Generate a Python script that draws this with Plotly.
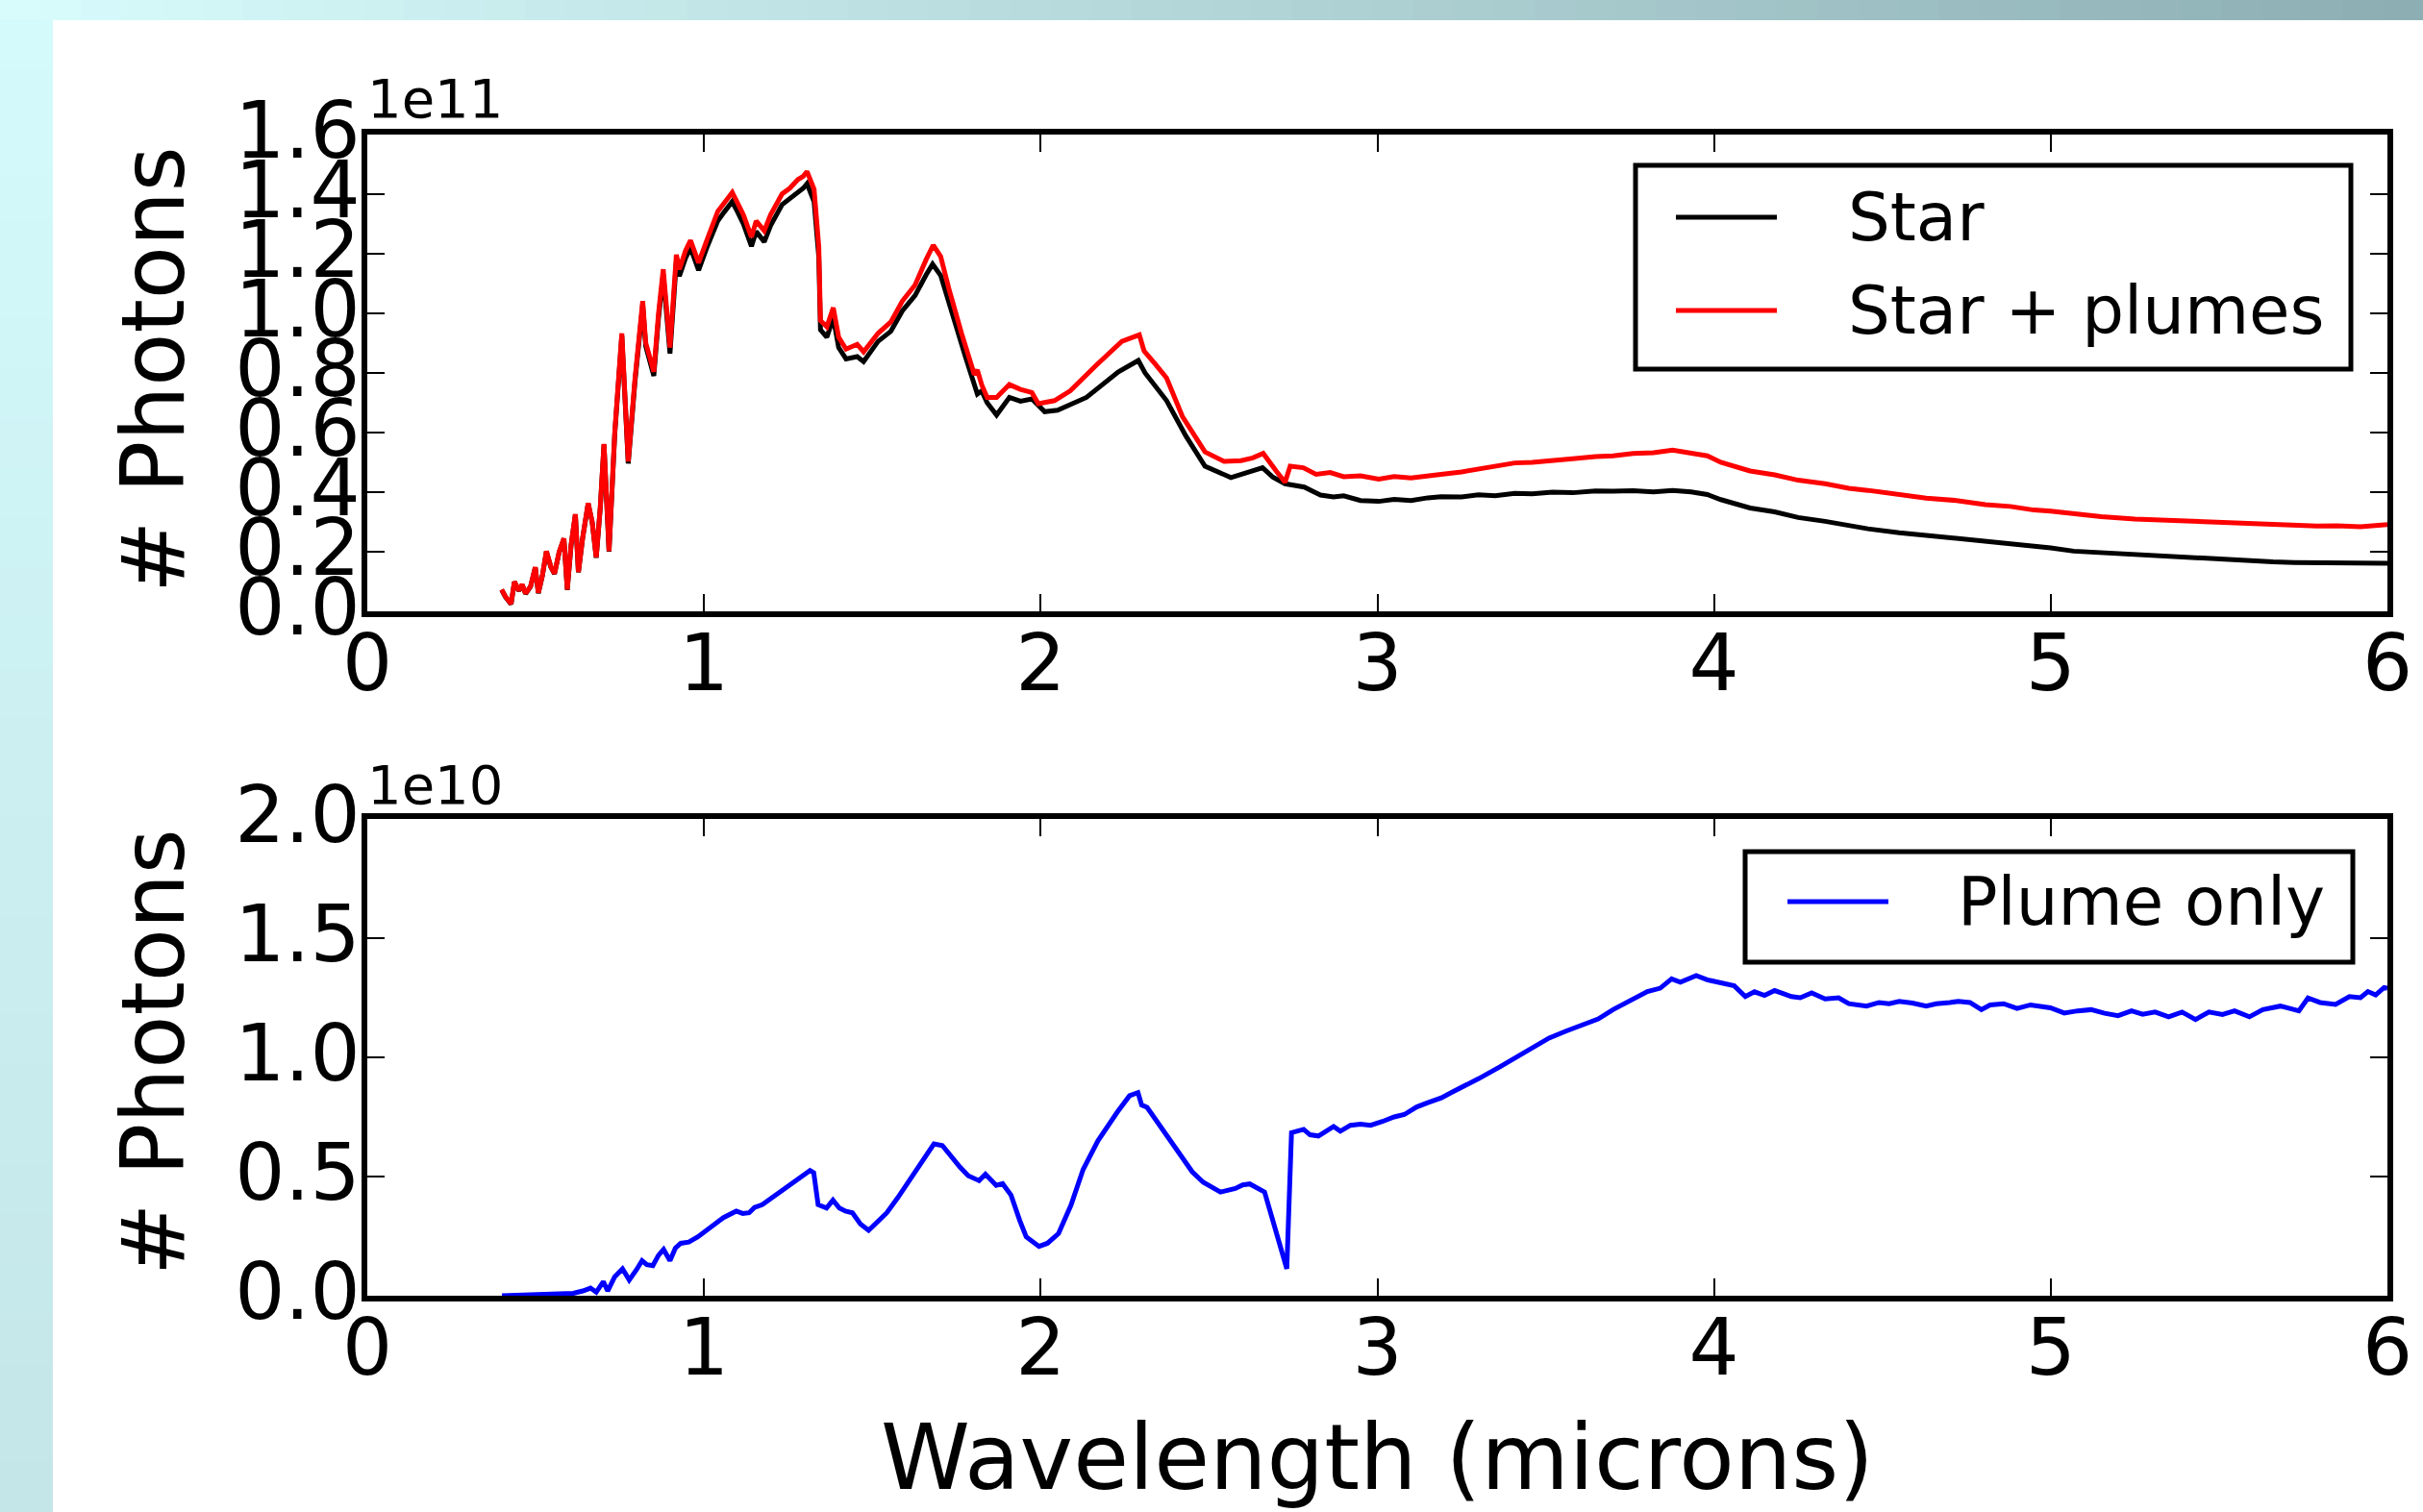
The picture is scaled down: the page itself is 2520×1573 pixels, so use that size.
import plotly.graph_objects as go

# ---------------- data (photons; top panel in units of 1e11, bottom in 1e10) -------------
star_wl = [0.399, 0.41, 0.427, 0.437, 0.45, 0.46, 0.47, 0.485, 0.499, 0.508, 0.52, 0.532, 0.545, 0.556,
           0.57, 0.584, 0.594, 0.605, 0.618, 0.627, 0.64, 0.656, 0.668, 0.680, 0.692, 0.703, 0.718, 0.735,
           0.756, 0.775, 0.795, 0.818, 0.827, 0.851, 0.865, 0.879, 0.899, 0.918, 0.927, 0.945, 0.960, 0.984,
           1.01, 1.041, 1.06, 1.084, 1.10, 1.117, 1.141, 1.155, 1.179, 1.198, 1.232, 1.255, 1.279, 1.295,
           1.306, 1.327, 1.341, 1.346, 1.365, 1.384, 1.40, 1.422, 1.455, 1.474, 1.517, 1.555, 1.589, 1.627,
           1.660, 1.679, 1.703, 1.736, 1.775, 1.812, 1.825, 1.841, 1.869, 1.907, 1.94, 1.974, 2.012, 2.05,
           2.136, 2.231, 2.290, 2.31, 2.374, 2.431, 2.488, 2.565, 2.62, 2.659, 2.690, 2.726, 2.783, 2.831,
           2.87, 2.90, 2.95, 3.004, 3.05, 3.10, 3.15, 3.189, 3.25, 3.30, 3.35, 3.408, 3.46, 3.52, 3.58, 3.648,
           3.70, 3.76, 3.82, 3.877, 3.932, 3.98, 4.02, 4.06, 4.107, 4.18, 4.25, 4.33, 4.40, 4.457, 4.55, 4.63,
           4.72, 4.806, 4.88, 4.95, 5.00, 5.068, 5.15, 5.25, 5.35, 5.462, 5.53, 5.60, 5.66, 5.724, 5.79,
           5.85, 5.92, 6.0]
star_val = [0.072, 0.049, 0.024, 0.099, 0.069, 0.089, 0.059, 0.083, 0.147, 0.061, 0.119, 0.201, 0.149, 0.126,
            0.199, 0.244, 0.072, 0.219, 0.325, 0.131, 0.249, 0.362, 0.299, 0.180, 0.348, 0.560, 0.200, 0.595,
            0.925, 0.496, 0.77, 1.03, 0.89, 0.79, 0.985, 1.13, 0.865, 1.175, 1.125, 1.185, 1.22, 1.145,
            1.225, 1.31, 1.34, 1.375, 1.34, 1.30, 1.225, 1.275, 1.24, 1.295, 1.365, 1.385, 1.41, 1.42,
            1.435, 1.375, 1.19, 0.945, 0.92, 0.985, 0.885, 0.847, 0.855, 0.838, 0.906, 0.94, 1.008, 1.06,
            1.13, 1.165, 1.127, 0.998, 0.86, 0.729, 0.74, 0.70, 0.659, 0.718, 0.705, 0.713, 0.670, 0.675,
            0.718, 0.804, 0.842, 0.80, 0.707, 0.589, 0.487, 0.449, 0.466, 0.482, 0.45, 0.428, 0.417, 0.390,
            0.384, 0.388, 0.372, 0.369, 0.376, 0.372, 0.381, 0.385, 0.384, 0.391, 0.388, 0.396, 0.394, 0.400,
            0.398, 0.404, 0.403, 0.405, 0.401, 0.406, 0.401, 0.392, 0.375, 0.362, 0.347, 0.334, 0.315, 0.302,
            0.287, 0.277, 0.264, 0.255, 0.246, 0.234, 0.226, 0.217, 0.213, 0.202, 0.197, 0.188, 0.182,
            0.175, 0.172, 0.169, 0.166, 0.164, 0.163, 0.162, 0.160, 0.161]

plumes_wl = [0.399, 0.41, 0.427, 0.437, 0.45, 0.46, 0.47, 0.485, 0.499, 0.508, 0.52, 0.532, 0.545, 0.556,
             0.57, 0.584, 0.594, 0.605, 0.618, 0.627, 0.64, 0.656, 0.668, 0.680, 0.692, 0.703, 0.718, 0.735,
             0.756, 0.775, 0.795, 0.818, 0.827, 0.851, 0.865, 0.879, 0.899, 0.918, 0.927, 0.945, 0.960, 0.984,
             1.01, 1.041, 1.06, 1.084, 1.10, 1.117, 1.141, 1.155, 1.179, 1.198, 1.232, 1.255, 1.279, 1.295,
             1.306, 1.327, 1.341, 1.346, 1.365, 1.384, 1.40, 1.422, 1.455, 1.474, 1.517, 1.555, 1.589, 1.627,
             1.660, 1.681, 1.703, 1.727, 1.765, 1.803, 1.812, 1.825, 1.841, 1.869, 1.907, 1.94, 1.974, 1.993,
             2.041, 2.088, 2.165, 2.241, 2.293, 2.307, 2.340, 2.374, 2.421, 2.488, 2.545, 2.595, 2.630, 2.661,
             2.700, 2.726, 2.741, 2.780, 2.818, 2.86, 2.90, 2.95, 3.004, 3.05, 3.10, 3.15, 3.189, 3.25, 3.30,
             3.35, 3.408, 3.46, 3.52, 3.58, 3.648, 3.70, 3.76, 3.82, 3.877, 3.932, 3.98, 4.02, 4.06, 4.107,
             4.18, 4.25, 4.33, 4.40, 4.457, 4.55, 4.63, 4.72, 4.806, 4.88, 4.95, 5.00, 5.068, 5.15, 5.25, 5.35,
             5.462, 5.53, 5.60, 5.66, 5.724, 5.79, 5.85, 5.92, 6.0]
plumes_val = [0.073, 0.05, 0.025, 0.10, 0.07, 0.09, 0.06, 0.084, 0.148, 0.062, 0.12, 0.202, 0.15, 0.127,
              0.20, 0.245, 0.073, 0.22, 0.326, 0.132, 0.25, 0.363, 0.30, 0.181, 0.35, 0.562, 0.202, 0.60,
              0.933, 0.503, 0.78, 1.041, 0.901, 0.804, 1.00, 1.148, 0.885, 1.197, 1.148, 1.21, 1.245, 1.170,
              1.25, 1.342, 1.37, 1.406, 1.37, 1.331, 1.256, 1.31, 1.277, 1.331, 1.401, 1.42, 1.449, 1.46,
              1.476, 1.417, 1.224, 0.976, 0.955, 1.019, 0.92, 0.880, 0.896, 0.871, 0.933, 0.971, 1.041, 1.095,
              1.181, 1.229, 1.191, 1.084, 0.933, 0.794, 0.81, 0.76, 0.718, 0.718, 0.761, 0.745, 0.734, 0.697,
              0.707, 0.740, 0.826, 0.906, 0.928, 0.874, 0.83, 0.783, 0.654, 0.535, 0.503, 0.506, 0.515, 0.530,
              0.47, 0.433, 0.487, 0.482, 0.460, 0.466, 0.452, 0.455, 0.444, 0.452, 0.448, 0.457, 0.460, 0.468,
              0.478, 0.484, 0.498, 0.500, 0.508, 0.512, 0.519, 0.522, 0.530, 0.532, 0.541, 0.530, 0.522, 0.50,
              0.488, 0.471, 0.458, 0.44, 0.428, 0.413, 0.406, 0.392, 0.38, 0.372, 0.358, 0.352, 0.34, 0.336,
              0.326, 0.318, 0.31, 0.306, 0.299, 0.297, 0.292, 0.290, 0.288, 0.286, 0.287, 0.284, 0.291]

plume_wl = [0.40, 0.45, 0.50, 0.55, 0.58, 0.612, 0.64, 0.663, 0.68, 0.701, 0.714, 0.735, 0.758, 0.778, 0.80,
            0.816, 0.83, 0.848, 0.865, 0.880, 0.899, 0.915, 0.931, 0.955, 0.982, 1.02, 1.058, 1.096, 1.115,
            1.134, 1.15, 1.173, 1.20, 1.224, 1.25, 1.275, 1.307, 1.315, 1.326, 1.339, 1.364, 1.383, 1.402,
            1.42, 1.441, 1.465, 1.489, 1.515, 1.543, 1.575, 1.606, 1.635, 1.657, 1.683, 1.708, 1.734, 1.76,
            1.785, 1.817, 1.836, 1.868, 1.887, 1.912, 1.938, 1.957, 1.995, 2.02, 2.053, 2.09, 2.126, 2.170,
            2.228, 2.264, 2.289, 2.30, 2.316, 2.35, 2.374, 2.417, 2.45, 2.483, 2.534, 2.578, 2.600, 2.621,
            2.665, 2.731, 2.745, 2.781, 2.80, 2.825, 2.85, 2.87, 2.89, 2.92, 2.95, 2.98, 3.015, 3.05, 3.08,
            3.117, 3.15, 3.19, 3.219, 3.26, 3.30, 3.364, 3.40, 3.45, 3.510, 3.56, 3.60, 3.656, 3.70, 3.75,
            3.802, 3.84, 3.874, 3.90, 3.947, 3.98, 4.020, 4.06, 4.093, 4.12, 4.15, 4.18, 4.201, 4.23, 4.256,
            4.29, 4.33, 4.37, 4.40, 4.453, 4.49, 4.52, 4.55, 4.589, 4.63, 4.66, 4.70, 4.726, 4.76, 4.794,
            4.82, 4.86, 4.90, 4.94, 4.999, 5.04, 5.08, 5.12, 5.16, 5.20, 5.24, 5.273, 5.31, 5.35, 5.39,
            5.430, 5.47, 5.51, 5.546, 5.59, 5.63, 5.682, 5.71, 5.737, 5.764, 5.80, 5.846, 5.887, 5.92,
            5.942, 5.965, 5.990, 6.0]
plume_val = [0.0, 0.002, 0.004, 0.006, 0.01, 0.01, 0.02, 0.032, 0.015, 0.059, 0.02, 0.08, 0.113, 0.066, 0.11,
             0.147, 0.13, 0.126, 0.17, 0.194, 0.147, 0.20, 0.220, 0.225, 0.247, 0.29, 0.328, 0.355, 0.345,
             0.348, 0.37, 0.382, 0.41, 0.435, 0.46, 0.483, 0.516, 0.525, 0.516, 0.382, 0.368, 0.401, 0.368,
             0.355, 0.348, 0.30, 0.274, 0.31, 0.348, 0.41, 0.476, 0.54, 0.583, 0.637, 0.630, 0.583, 0.54,
             0.503, 0.483, 0.51, 0.463, 0.47, 0.422, 0.315, 0.247, 0.207, 0.22, 0.261, 0.38, 0.529, 0.650,
             0.771, 0.839, 0.852, 0.80, 0.79, 0.72, 0.677, 0.583, 0.52, 0.476, 0.435, 0.45, 0.465, 0.469,
             0.435, 0.113, 0.684, 0.698, 0.675, 0.67, 0.695, 0.71, 0.69, 0.715, 0.72, 0.715, 0.731, 0.75, 0.76,
             0.792, 0.81, 0.83, 0.852, 0.88, 0.91, 0.960, 0.99, 1.03, 1.081, 1.11, 1.13, 1.161, 1.20, 1.24,
             1.276, 1.29, 1.329, 1.315, 1.343, 1.325, 1.31, 1.30, 1.255, 1.275, 1.26, 1.28, 1.27, 1.255, 1.25,
             1.27, 1.245, 1.25, 1.225, 1.215, 1.23, 1.225, 1.235, 1.228, 1.215, 1.225, 1.23, 1.235, 1.23, 1.20,
             1.22, 1.225, 1.205, 1.22, 1.208, 1.186, 1.195, 1.20, 1.185, 1.175, 1.195, 1.181, 1.19, 1.17, 1.19,
             1.159, 1.19, 1.18, 1.195, 1.17, 1.20, 1.215, 1.205, 1.195, 1.249, 1.23, 1.222, 1.255, 1.25,
             1.276, 1.262, 1.293, 1.29]

x_ticks = [0, 1, 2, 3, 4, 5, 6]
x_tick_text = ["0", "1", "2", "3", "4", "5", "6"]
top_ticks = [0.0, 0.2, 0.4, 0.6, 0.8, 1.0, 1.2, 1.4, 1.6]
top_tick_text = ["0.0", "0.2", "0.4", "0.6", "0.8", "1.0", "1.2", "1.4", "1.6"]
bottom_ticks = [0.0, 0.5, 1.0, 1.5, 2.0]
bottom_tick_text = ["0.0", "0.5", "1.0", "1.5", "2.0"]

top_names = ["Star", "Star + plumes"]
top_colors = ["#000000", "#FF0000"]
bottom_names = ["Plume only"]
bottom_colors = ["#0000FF"]

# ---------------- layout geometry -------------
W, H = 2520, 1573
L, R, T, B = 382, 37, 140, 225
PW, PH = W - L - R, H - T - B
FONT = "DejaVu Sans"


def px2x(px):
    return (px - L) / PW


def py2y(py):
    return (H - B - py) / PH


fig = go.Figure()
fig.add_trace(go.Scatter(x=star_wl, y=star_val, mode="lines", name=top_names[0],
                         line=dict(color=top_colors[0], width=5), xaxis="x", yaxis="y", showlegend=False))
fig.add_trace(go.Scatter(x=plumes_wl, y=plumes_val, mode="lines", name=top_names[1],
                         line=dict(color=top_colors[1], width=5), xaxis="x", yaxis="y", showlegend=False))
fig.add_trace(go.Scatter(x=plume_wl, y=plume_val, mode="lines", name=bottom_names[0],
                         line=dict(color=bottom_colors[0], width=5), xaxis="x2", yaxis="y2", showlegend=False))

axis_style = dict(showline=True, linewidth=6, linecolor="#000000", mirror="ticks",
                  ticks="inside", ticklen=18, tickwidth=2, tickcolor="#000000",
                  showgrid=False, zeroline=False,
                  tickfont=dict(family=FONT, size=82, color="#000000"))

fig.update_layout(
    width=W, height=H,
    margin=dict(l=L, r=R, t=T, b=B, pad=0),
    paper_bgcolor="#FFFFFF", plot_bgcolor="#FFFFFF",
    font=dict(family=FONT, color="#000000"),
    xaxis=dict(domain=[0, 1], anchor="y", range=[0, 6], tickvals=x_ticks, ticktext=x_tick_text,
               ticklabelstandoff=-22, **axis_style),
    yaxis=dict(domain=[py2y(636), 1], anchor="x", range=[0, 1.6], tickvals=top_ticks,
               ticktext=top_tick_text, ticklabelshift=-5, ticklabelstandoff=-15, **axis_style),
    xaxis2=dict(domain=[0, 1], anchor="y2", range=[0, 6], tickvals=x_ticks, ticktext=x_tick_text,
                ticklabelstandoff=-22,
                title=dict(text="Wavelength (microns)", font=dict(family=FONT, size=94, color="#000000"),
                           standoff=37),
                **axis_style),
    yaxis2=dict(domain=[0, py2y(852)], anchor="x2", range=[0, 2.0], tickvals=bottom_ticks,
                ticktext=bottom_tick_text, ticklabelshift=-5, ticklabelstandoff=-15, **axis_style),
    showlegend=False,
)

annots = [
    dict(text="# Photons", textangle=-90, x=px2x(159), y=py2y(385), xref="paper", yref="paper",
         xanchor="center", yanchor="middle", showarrow=False, font=dict(family=FONT, size=90, color="#000000")),
    dict(text="# Photons", textangle=-90, x=px2x(159), y=py2y(1095), xref="paper", yref="paper",
         xanchor="center", yanchor="middle", showarrow=False, font=dict(family=FONT, size=90, color="#000000")),
    dict(text="1e11", x=px2x(380), y=py2y(137), xref="paper", yref="paper", xanchor="left", yanchor="bottom",
         showarrow=False, font=dict(family=FONT, size=56, color="#000000")),
    dict(text="1e10", x=px2x(380), y=py2y(851), xref="paper", yref="paper", xanchor="left", yanchor="bottom",
         showarrow=False, font=dict(family=FONT, size=56, color="#000000")),
]

shapes = []


def lerp(c1, c2, t):
    return "rgb(%d,%d,%d)" % tuple(round(a + (b - a) * t) for a, b in zip(c1, c2))


# slide-like gradient frame (top band and left band)
n = 60
top_left, top_right = (216, 252, 252), (141, 175, 180)
for i in range(n):
    x0 = i * W / n
    x1 = (i + 1) * W / n + 1
    shapes.append(dict(type="rect", xref="paper", yref="paper", x0=px2x(x0), x1=px2x(x1),
                       y0=py2y(21), y1=py2y(0), fillcolor=lerp(top_left, top_right, i / (n - 1)),
                       line=dict(width=0), layer="below"))
m = 30
left_top, left_bottom = (212, 250, 251), (196, 230, 233)
for j in range(m):
    y0 = 21 + j * (H - 21) / m
    y1 = 21 + (j + 1) * (H - 21) / m + 1
    shapes.append(dict(type="rect", xref="paper", yref="paper", x0=px2x(0), x1=px2x(55),
                       y0=py2y(y1), y1=py2y(y0), fillcolor=lerp(left_top, left_bottom, j / (m - 1)),
                       line=dict(width=0), layer="below"))


# legend boxes (matplotlib style: long line sample, wide gap before label)
def add_legend(box, names, colors, rows_y, line_x, text_x):
    bx0, by0, bx1, by1 = box
    shapes.append(dict(type="rect", xref="paper", yref="paper", x0=px2x(bx0), x1=px2x(bx1),
                       y0=py2y(by1), y1=py2y(by0), fillcolor="#FFFFFF",
                       line=dict(color="#000000", width=5), layer="above"))
    for name, color, ry in zip(names, colors, rows_y):
        shapes.append(dict(type="line", xref="paper", yref="paper", x0=px2x(line_x[0]), x1=px2x(line_x[1]),
                           y0=py2y(ry), y1=py2y(ry), line=dict(color=color, width=5), layer="above"))
        annots.append(dict(text=name, x=px2x(text_x), y=py2y(ry), xref="paper", yref="paper",
                           xanchor="left", yanchor="middle", showarrow=False,
                           font=dict(family=FONT, size=69, color="#000000")))


add_legend((1701, 172, 2445, 384), top_names, top_colors, [226, 323], (1743, 1848), 1920)
add_legend((1815, 886, 2447, 1001), bottom_names, bottom_colors, [938], (1859, 1964), 2034)

fig.update_layout(shapes=shapes, annotations=annots)

fig.write_html("out.html", config={"displayModeBar": False},
               post_script="document.body.style.margin='0';document.body.style.overflow='hidden';")
